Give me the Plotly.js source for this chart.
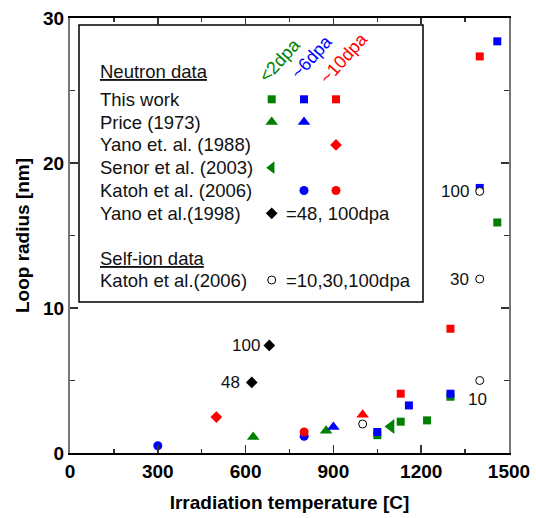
<!DOCTYPE html>
<html><head><meta charset="utf-8">
<script src="https://cdn.plot.ly/plotly-3.0.1.min.js"></script>
<style>html,body{margin:0;padding:0;background:#fff}</style>
</head><body><div id="chart" style="width:536px;height:518px"></div>
<script>
// ---------- data (irradiation temperature [C], loop radius [nm]) ----------
const thisWorkGreenT = [1050, 1130, 1220, 1300, 1460];
const thisWorkGreenR = [1.23, 2.16, 2.25, 3.88, 15.9];
const thisWorkBlueT  = [1050, 1158, 1300, 1400, 1460];
const thisWorkBlueR  = [1.45, 3.28, 4.09, 18.28, 28.39];
const thisWorkRedT   = [1130, 1300, 1400];
const thisWorkRedR   = [4.09, 8.57, 27.35];
const priceGreenT = [626, 875];
const priceGreenR = [1.1, 1.54];
const priceBlueT  = [900];
const priceBlueR  = [1.8];
const priceRedT   = [1000];
const priceRedR   = [2.64];
const yano1988T = [500];
const yano1988R = [2.48];
const senorT = [1097];
const senorR = [1.83];
const katohBlueT = [300, 800];
const katohBlueR = [0.5, 1.15];
const katohRedT  = [800];
const katohRedR  = [1.45];
const yano1998T   = [621, 681];
const yano1998R   = [4.87, 7.42];
const yano1998Dpa = ['48', '100'];
const selfIonT   = [1000, 1400, 1400, 1400];
const selfIonR   = [2.0, 5.0, 12.0, 18.04];
const selfIonDpa = ['', '10', '30', '100'];

const xTicks = [0, 300, 600, 900, 1200, 1500];
const yTicks = [0, 10, 20, 30];

const legendRows = ['This work', 'Price (1973)', 'Yano et. al. (1988)', 'Senor et al. (2003)', 'Katoh et al. (2006)', 'Yano et al.(1998)'];
const legendHeaders = ['<2dpa', '~6dpa', '~10dpa'];

// ---------- styles ----------
const GREEN = '#008000', BLUE = '#0000ff', RED = '#ff0000';
const FONT = 'Liberation Sans, Arial, Helvetica, sans-serif';
const colColors = [GREEN, BLUE, RED];

function pts(x, y, symbol, color, size, extra) {
  return Object.assign({
    type: 'scatter', mode: 'markers', x: x, y: y, cliponaxis: false, hoverinfo: 'skip',
    marker: {symbol: symbol, color: color, size: size, line: {width: 0}}
  }, extra || {});
}

const traces = [
  pts(thisWorkGreenT, thisWorkGreenR, 'square', GREEN, 8),
  pts(thisWorkBlueT, thisWorkBlueR, 'square', BLUE, 8),
  pts(thisWorkRedT, thisWorkRedR, 'square', RED, 8),
  pts(priceGreenT, priceGreenR, 'triangle-up', GREEN, 11),
  pts(priceBlueT, priceBlueR, 'triangle-up', BLUE, 11),
  pts(priceRedT, priceRedR, 'triangle-up', RED, 11),
  pts(yano1988T, yano1988R, 'diamond', RED, 9),
  pts(senorT, senorR, 'triangle-left', GREEN, 13),
  pts(katohBlueT, katohBlueR, 'circle', BLUE, 9),
  pts(katohRedT, katohRedR, 'circle', RED, 9),
  pts(yano1998T, yano1998R, 'diamond', '#000', 9),
  pts(selfIonT, selfIonR, 'circle', '#fff', 8, {marker: {symbol: 'circle', color: '#fff', size: 8, line: {color: '#000', width: 1}}})
];

// ---------- custom legend (overlay axes in pixel units of the page) ----------
const LX = 97.5, colX = [271.7, 304, 336], rowY0 = 99.3, rowDY = 22.8;
const legendSym = [
  ['square', 'square', 'square'],
  ['triangle-up', 'triangle-up', null],
  [null, null, 'diamond'],
  ['triangle-left', null, null],
  [null, 'circle', 'circle']
];
const legendSize = {'square': 8, 'triangle-up': 11, 'diamond': 9, 'triangle-left': 11, 'circle': 9};
legendSym.forEach((row, i) => {
  row.forEach((s, j) => {
    if (!s) return;
    traces.push(Object.assign(pts([colX[j]], [rowY0 + i * rowDY], s, colColors[j], legendSize[s]), {xaxis: 'x2', yaxis: 'y2'}));
  });
});
traces.push(Object.assign(pts([colX[0]], [rowY0 + 5 * rowDY], 'diamond', '#000', 9), {xaxis: 'x2', yaxis: 'y2'}));
traces.push(Object.assign(pts([colX[0]], [280], 'circle', '#fff', 8,
  {marker: {symbol: 'circle', color: '#fff', size: 8, line: {color: '#000', width: 1}}}), {xaxis: 'x2', yaxis: 'y2'}));

const ann = [];
const lf = {family: FONT, size: 18.5, color: '#111'};
ann.push({xref: 'x2', yref: 'y2', x: LX, y: 71.7, xanchor: 'left', yanchor: 'middle', text: '<u>Neutron data</u>', showarrow: false, font: lf});
legendRows.forEach((t, i) => {
  ann.push({xref: 'x2', yref: 'y2', x: LX, y: rowY0 + i * rowDY, xanchor: 'left', yanchor: 'middle', text: t, showarrow: false, font: lf});
});
ann.push({xref: 'x2', yref: 'y2', x: 284, y: rowY0 + 5 * rowDY, xanchor: 'left', yanchor: 'middle', text: '=48, 100dpa', showarrow: false, font: lf});
ann.push({xref: 'x2', yref: 'y2', x: LX, y: 258.3, xanchor: 'left', yanchor: 'middle', text: '<u>Self-ion data</u>', showarrow: false, font: lf});
ann.push({xref: 'x2', yref: 'y2', x: LX, y: 280, xanchor: 'left', yanchor: 'middle', text: 'Katoh et al.(2006)', showarrow: false, font: lf});
ann.push({xref: 'x2', yref: 'y2', x: 284, y: 280, xanchor: 'left', yanchor: 'middle', text: '=10,30,100dpa', showarrow: false, font: lf});
const hdrX = [280, 311.7, 344], hdrY = [60, 57, 58];
legendHeaders.forEach((t, j) => {
  ann.push({xref: 'x2', yref: 'y2', x: hdrX[j], y: hdrY[j], xanchor: 'center', yanchor: 'middle', textangle: -48,
    text: t, showarrow: false, font: {family: FONT, size: 18, color: colColors[j]}});
});

// dpa labels on points
const pf = {family: FONT, size: 17, color: '#111'};
yano1998T.forEach((t, i) => {
  ann.push({x: t, y: yano1998R[i], text: yano1998Dpa[i], showarrow: false, xanchor: 'right', yanchor: 'middle', xshift: i === 0 ? -10 : -7, font: pf});
});
selfIonT.forEach((t, i) => {
  if (!selfIonDpa[i]) return;
  if (selfIonDpa[i] === '10') {
    ann.push({x: t, y: selfIonR[i], text: selfIonDpa[i], showarrow: false, xanchor: 'center', yanchor: 'middle', xshift: -2, yshift: -19, font: pf});
  } else {
    ann.push({x: t, y: selfIonR[i], text: selfIonDpa[i], showarrow: false, xanchor: 'right', yanchor: 'middle', xshift: -9, font: pf});
  }
});

const tickFont = {family: FONT, size: 19, color: '#000', weight: 'bold'};
const layout = {
  width: 536, height: 518,
  margin: {l: 70, r: 27, t: 18, b: 65},
  paper_bgcolor: '#fff', plot_bgcolor: '#fff',
  showlegend: false,
  font: {family: FONT},
  xaxis: {
    range: [0, 1500], tickvals: xTicks, ticktext: xTicks.map(String),
    ticks: 'inside', ticklen: 8, tickwidth: 1.5, tickcolor: '#333',
    minor: {tickvals: [150, 450, 750, 1050, 1350], ticks: 'inside', ticklen: 4, tickwidth: 1.5, tickcolor: '#333'},
    showline: true, linecolor: '#000', linewidth: 2, mirror: 'ticks',
    showgrid: false, zeroline: false, tickfont: tickFont,
    title: {text: 'Irradiation temperature [C]', font: {family: FONT, size: 19, color: '#000', weight: 'bold'}, standoff: 15}
  },
  yaxis: {
    range: [0, 30], tickvals: yTicks, ticktext: yTicks.map(String),
    ticks: 'inside', ticklen: 8, tickwidth: 1.5, tickcolor: '#333',
    minor: {tickvals: [5, 15, 25], ticks: 'inside', ticklen: 5, tickwidth: 1.5, tickcolor: '#333'},
    showline: true, linecolor: '#777', linewidth: 2, mirror: 'ticks',
    showgrid: false, zeroline: false, tickfont: tickFont,
    title: {text: 'Loop radius [nm]', font: {family: FONT, size: 19, color: '#000', weight: 'bold'}, standoff: 8}
  },
  xaxis2: {overlaying: 'x', range: [70, 509], visible: false, fixedrange: true},
  yaxis2: {overlaying: 'y', range: [453, 18], visible: false, fixedrange: true},
  shapes: [
    {type: 'rect', xref: 'x2', yref: 'y2', x0: 79, x1: 423, y0: 25, y1: 302, line: {color: '#000', width: 1.5}, fillcolor: 'rgba(0,0,0,0)', layer: 'below'}
  ],
  annotations: ann
};

Plotly.newPlot('chart', traces, layout, {staticPlot: true, displayModeBar: false});
</script>
</body></html>
